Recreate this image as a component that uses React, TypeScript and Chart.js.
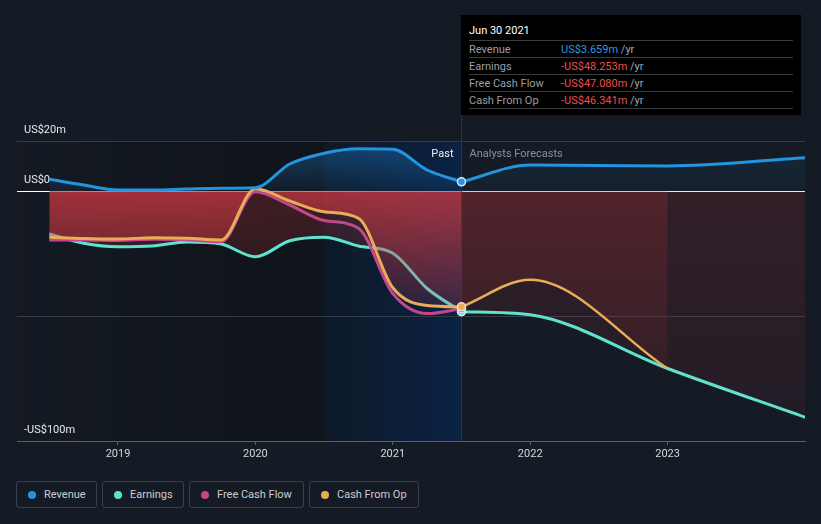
import React, { useEffect, useRef } from "react";
import { Chart, registerables } from "chart.js";
Chart.register(...registerables);

// ---- data (US$ m, x in decimal years) ----
const pastDates = [2018.5, 2018.75, 2019.0, 2019.25, 2019.5, 2019.75, 2020.0, 2020.25, 2020.5, 2020.75, 2021.0, 2021.25, 2021.5];
const revenuePast = [4.7, 2.4, 0.4, 0.4, 0.8, 1.1, 1.3, 10.8, 15.1, 16.9, 16.7, 8.4, 3.659];
const earningsPast = [-17.2, -20.9, -22.3, -22.0, -20.4, -21.2, -26.3, -19.9, -18.5, -22.0, -24.9, -39.0, -48.253];
const fcfPast = [-19.6, -19.6, -19.8, -19.3, -19.5, -20.3, -0.3, -5.6, -11.8, -14.9, -41.0, -49.0, -47.08];
const cfoPast = [-18.5, -19.0, -19.2, -18.7, -18.9, -19.6, 0.9, -4.0, -8.3, -10.9, -38.7, -45.8, -46.341];
const forecastDates = [2021.5, 2022.0, 2023.0, 2024.0];
const revenueForecast = [3.659, 10.4, 10.0, 13.3];
const earningsForecast = [-48.253, -49.5, -71.0, -90.5];
const cfoForecast = [-46.341, -35.5, -71.0];

const yearTicks = [2019, 2020, 2021, 2022, 2023];
const yGridValues = [-100, -50, 0, 20];
const yLabelValues = [20, 0, -100];
const yLabelTexts = ["US$20m", "US$0", "-US$100m"];

const xMin = 2018.265;
const xMax = 2024.0;
const yMin = -100;
const yMax = 20;
const nowDate = 2021.5;
const bandStart = 2020.5;

const seriesNames = ["Revenue", "Earnings", "Free Cash Flow", "Cash From Op"];
const seriesColors = ["#2394df", "#5fe3cf", "#c2478c", "#e9ad58"];
const tooltipDate = "Jun 30 2021";
const tooltipValues = ["US$3.659m", "-US$48.253m", "-US$47.080m", "-US$46.341m"];

const pts = (xs: number[], ys: number[]) => ys.map((y, i) => ({ x: xs[i], y }));

function vGrad(ctx: any, topVal: number, botVal: number, topColor: string, botColor: string) {
  const chart = ctx.chart;
  const ys = chart.scales && chart.scales.y;
  if (!chart.chartArea || !ys) return topColor;
  const g = chart.ctx.createLinearGradient(0, ys.getPixelForValue(topVal), 0, ys.getPixelForValue(botVal));
  g.addColorStop(0, topColor);
  g.addColorStop(1, botColor);
  return g;
}

const bgPlugin = {
  id: "bgBands",
  beforeDraw(chart: any) {
    const { ctx, chartArea: a, scales } = chart;
    const xs = scales.x;
    const xb = xs.getPixelForValue(bandStart);
    const xn = xs.getPixelForValue(nowDate);
    ctx.save();
    let g = ctx.createLinearGradient(a.left, 0, xb, 0);
    g.addColorStop(0, "rgba(0,0,0,0.04)");
    g.addColorStop(1, "rgba(0,0,0,0.26)");
    ctx.fillStyle = g;
    ctx.fillRect(a.left, a.top, xb - a.left, a.bottom - a.top);
    g = ctx.createLinearGradient(xb, 0, xn, 0);
    g.addColorStop(0, "#0e1927");
    g.addColorStop(1, "#0b2244");
    ctx.fillStyle = g;
    ctx.fillRect(xb, a.top, xn - xb, a.bottom - a.top);
    ctx.restore();
  },
  beforeDatasetsDraw(chart: any) {
    const { ctx, chartArea: a, scales } = chart;
    const xn = Math.round(scales.x.getPixelForValue(nowDate)) + 0.5;
    ctx.save();
    ctx.strokeStyle = "#1e3658";
    ctx.lineWidth = 1;
    ctx.beginPath();
    ctx.moveTo(xn, 115);
    ctx.lineTo(xn, a.bottom);
    ctx.stroke();
    ctx.restore();
  },
  afterDatasetsDraw(chart: any) {
    const { ctx, scales } = chart;
    const xn = scales.x.getPixelForValue(nowDate);
    ctx.save();
    ctx.font = "11px Roboto, sans-serif";
    ctx.textBaseline = "alphabetic";
    ctx.fillStyle = "#e6e8eb";
    ctx.textAlign = "left";
    yLabelValues.forEach((v, i) => {
      const y = scales.y.getPixelForValue(v);
      ctx.fillText(yLabelTexts[i], 24, y - 8);
    });
    const ty = scales.y.getPixelForValue(20) + 16;
    ctx.textAlign = "right";
    ctx.fillStyle = "#eceef1";
    ctx.fillText("Past", xn - 8, ty);
    ctx.textAlign = "left";
    ctx.fillStyle = "#8b9098";
    ctx.fillText("Analysts Forecasts", xn + 8, ty);
    ctx.restore();
  },
};

const lastIdx = pastDates.length - 1;
const pointR = (ctx: any) => (ctx.dataIndex === lastIdx ? 4 : 0);

export default function App() {
  const ref = useRef<HTMLCanvasElement | null>(null);
  useEffect(() => {
    document.body.style.margin = "0";
    document.body.style.background = "#151b24";
    if (!ref.current) return;
    const common = {
      borderWidth: 3,
      cubicInterpolationMode: "monotone" as const,
      pointHoverRadius: 0,
    };
    const chart = new Chart(ref.current, {
      type: "line",
      data: {
        datasets: [
          {
            ...common,
            label: "Revenue",
            data: pts(pastDates, revenuePast),
            borderColor: seriesColors[0],
            fill: "origin",
            backgroundColor: (c: any) => vGrad(c, 20, 0, "rgba(33,150,243,0.36)", "rgba(33,150,243,0.06)"),
            pointRadius: pointR,
            pointBackgroundColor: seriesColors[0],
            pointBorderColor: "#dce8f6",
            pointBorderWidth: 1.5,
          },
          {
            ...common,
            label: "Revenue forecast",
            data: pts(forecastDates, revenueForecast),
            borderColor: seriesColors[0],
            fill: "origin",
            backgroundColor: (c: any) => vGrad(c, 20, 0, "rgba(33,150,243,0.12)", "rgba(33,150,243,0.04)"),
            pointRadius: 0,
          },
          {
            ...common,
            label: "Cash From Op",
            data: pts(pastDates, cfoPast),
            borderColor: seriesColors[3],
            fill: "origin",
            backgroundColor: (c: any) => vGrad(c, 0, -50, "rgba(215,58,68,0.64)", "rgba(215,58,68,0.1)"),
            pointRadius: pointR,
            pointBackgroundColor: seriesColors[3],
            pointBorderColor: "#e6e0d8",
            pointBorderWidth: 1.5,
          },
          {
            ...common,
            label: "Cash From Op forecast",
            data: pts(forecastDates, cfoForecast),
            borderColor: seriesColors[3],
            borderWidth: 2.5,
            fill: "origin",
            backgroundColor: (c: any) => vGrad(c, 0, -70, "rgba(215,55,55,0.2)", "rgba(215,55,55,0.08)"),
            pointRadius: 0,
          },
          {
            ...common,
            label: "Free Cash Flow",
            data: pts(pastDates, fcfPast),
            borderColor: seriesColors[2],
            fill: false,
            pointRadius: pointR,
            pointBackgroundColor: seriesColors[2],
            pointBorderColor: "#e6dbe3",
            pointBorderWidth: 1.5,
          },
          {
            ...common,
            label: "Earnings",
            data: pts(pastDates, earningsPast),
            borderColor: seriesColors[1],
            fill: "origin",
            backgroundColor: (c: any) => vGrad(c, 0, -50, "rgba(220,60,60,0.24)", "rgba(220,60,60,0.08)"),
            pointRadius: pointR,
            pointBackgroundColor: seriesColors[1],
            pointBorderColor: "#dff5f2",
            pointBorderWidth: 1.5,
          },
          {
            ...common,
            label: "Earnings forecast",
            data: pts(forecastDates, earningsForecast),
            borderColor: seriesColors[1],
            fill: "origin",
            backgroundColor: (c: any) => vGrad(c, 0, -90, "rgba(215,55,65,0.15)", "rgba(215,55,65,0.07)"),
            pointRadius: 0,
          },
        ],
      },
      options: {
        animation: false,
        responsive: false,
        events: [],
        layout: { padding: { left: 17, right: 16, top: 141, bottom: 5 } },
        plugins: {
          legend: { display: false },
          tooltip: { enabled: false },
        },
        scales: {
          x: {
            type: "linear",
            min: xMin,
            max: xMax,
            afterBuildTicks: (s: any) => {
              s.ticks = yearTicks.map((v) => ({ value: v }));
            },
            afterFit: (s: any) => {
              s.height = 24;
            },
            ticks: {
              color: "#d4d7dc",
              font: { family: "Roboto, sans-serif", size: 11 },
              padding: 3,
              maxRotation: 0,
              autoSkip: false,
              callback: (v: any) => String(v),
            },
            grid: { drawOnChartArea: false, drawTicks: true, tickLength: 4, color: "#5a606b" },
            border: { display: true, color: "#5a606b", width: 1 },
          },
          y: {
            type: "linear",
            min: yMin,
            max: yMax,
            afterBuildTicks: (s: any) => {
              s.ticks = yGridValues.map((v) => ({ value: v }));
            },
            ticks: { display: false },
            grid: {
              drawTicks: false,
              color: (c: any) => (c.tick && c.tick.value === 0 ? "#ffffff" : c.tick && c.tick.value === -100 ? "rgba(0,0,0,0)" : "#343a46"),
              lineWidth: 1,
            },
            border: { display: false },
          },
        },
      },
      plugins: [bgPlugin],
    } as any);
    return () => chart.destroy();
  }, []);

  const legendBoxes = [
    { left: 16, width: 81 },
    { left: 102, width: 82 },
    { left: 189, width: 115 },
    { left: 309, width: 110 },
  ];

  return (
    <div style={{ position: "relative", width: 821, height: 524, background: "#151b24", overflow: "hidden", fontFamily: "Roboto, sans-serif" }}>
      <canvas ref={ref} width={821} height={470} style={{ display: "block", position: "absolute", left: 0, top: 0 }} />
      <div style={{ position: "absolute", left: 461, top: 15, width: 340, height: 100, background: "#000000", fontSize: 11 }}>
        <div style={{ position: "absolute", left: 8, top: 7, lineHeight: "17px", color: "#ffffff" }}>{tooltipDate}</div>
        {seriesNames.map((n, i) => (
          <React.Fragment key={n}>
            <div style={{ position: "absolute", left: 8, top: 25 + 17 * i, width: 324, height: 1, background: "#3a3b3e" }} />
            <div style={{ position: "absolute", left: 8, top: 25.5 + 17 * i, lineHeight: "17px", color: "#9a9ea5" }}>{n}</div>
            <div style={{ position: "absolute", left: 100, top: 25.5 + 17 * i, lineHeight: "17px", whiteSpace: "nowrap" }}>
              <span style={{ color: i === 0 ? "#2f95e6" : "#f04c4c" }}>{tooltipValues[i]}</span>
              <span style={{ color: "#a3a7ad" }}> /yr</span>
            </div>
          </React.Fragment>
        ))}
        <div style={{ position: "absolute", left: 8, top: 93, width: 324, height: 1, background: "#3a3b3e" }} />
      </div>
      {seriesNames.map((n, i) => (
        <div
          key={n}
          style={{
            position: "absolute",
            left: legendBoxes[i].left,
            top: 481,
            width: legendBoxes[i].width,
            height: 27,
            boxSizing: "border-box",
            border: "1px solid #3a404b",
            borderRadius: 3,
            fontSize: 11,
            color: "#c9cdd3",
          }}
        >
          <span style={{ position: "absolute", left: 11, top: 8.5, width: 8, height: 8, borderRadius: 4, background: seriesColors[i] }} />
          <span style={{ position: "absolute", left: 27, top: 0, lineHeight: "25px", whiteSpace: "nowrap" }}>{n}</span>
        </div>
      ))}
    </div>
  );
}
